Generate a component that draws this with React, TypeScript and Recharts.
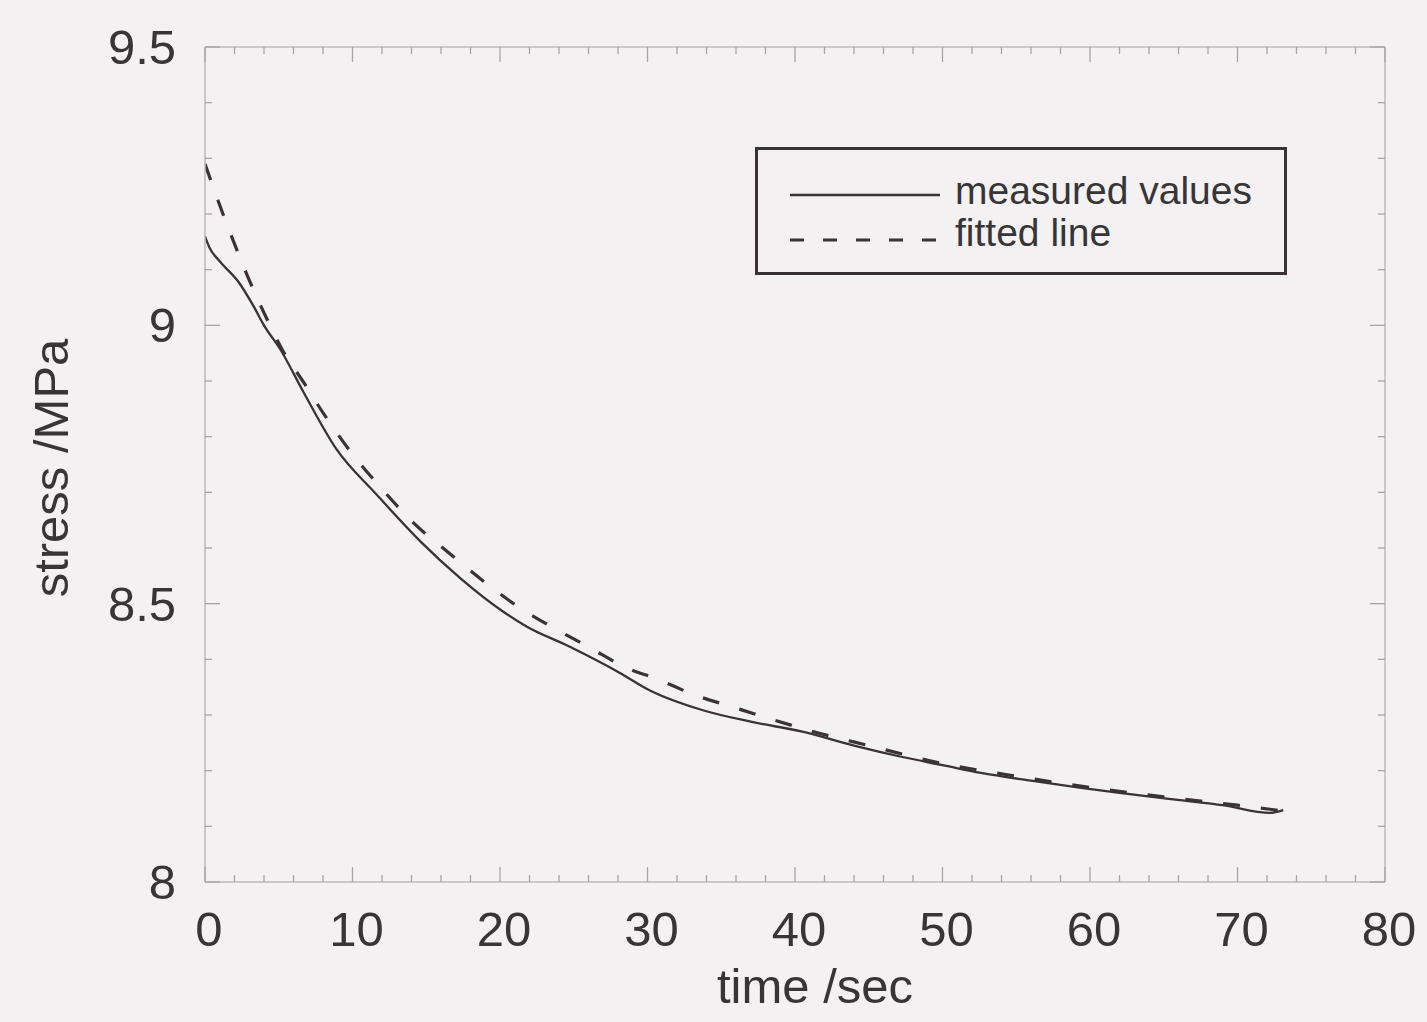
import {
  Legend,
  Line,
  LineChart,
  XAxis,
  YAxis,
} from "recharts";

// measured stress relaxation
const MEASURED_TIME = [
  0, 0.3, 1, 2.3, 3.3, 4, 5.1, 6.7, 8.9, 11.6, 14.6, 17.3, 20.2, 21.8, 24.7,
  28.1, 30.1, 33.7, 37, 40.5, 44, 47.2, 50, 52.6, 56, 59.4, 62, 66.1, 69,
  72.2, 73.1,
];
const MEASURED_STRESS = [
  9.16, 9.14, 9.115, 9.077, 9.034, 9.0, 8.957, 8.879, 8.778, 8.697, 8.612,
  8.546, 8.486, 8.459, 8.423, 8.376, 8.345, 8.309, 8.288, 8.27, 8.245, 8.225,
  8.21, 8.196, 8.182, 8.169, 8.16, 8.147, 8.138, 8.124, 8.129,
];

// fitted curve
const FITTED_TIME = [
  0, 1.15, 1.96, 2.97, 3.99, 5.2, 6.7, 8.2, 9.9, 11.9, 14.1, 16.5, 18.9, 21.2,
  23.6, 26.1, 28.4, 30.8, 33.2, 35.7, 38.1, 41, 45, 50, 55, 60, 65, 70, 73,
];
const FITTED_STRESS = [
  9.29, 9.205, 9.149, 9.083, 9.023, 8.958, 8.897, 8.835, 8.772, 8.709, 8.646,
  8.592, 8.54, 8.495, 8.457, 8.421, 8.387, 8.363, 8.336, 8.315, 8.295, 8.272,
  8.245, 8.213, 8.19, 8.17, 8.153, 8.138, 8.128,
];

// every 2 s a small tick, labelled every 10 s
const X_TICKS = [0, 2, 4, 6, 8, 10, 12, 14, 16, 18, 20, 22, 24, 26, 28, 30, 32, 34, 36, 38, 40, 42, 44, 46, 48, 50, 52, 54, 56, 58, 60, 62, 64, 66, 68, 70, 72, 74, 76, 78, 80];
// every 0.1 MPa a small tick, labelled every 0.5
const Y_TICKS = [8, 8.1, 8.2, 8.3, 8.4, 8.5, 8.6, 8.7, 8.8, 8.9, 9, 9.1, 9.2, 9.3, 9.4, 9.5];

const INK = "#3a3236";
const TEXT = "#383536";
const FRAME = "#bcb9bb";
const TICK = "#a8a5a7";
const BG = "#f3f1f2";
const FONT = "'Liberation Sans', Arial, sans-serif";

// plot frame edges (chart margins below)
const PLOT_TOP = 47;
const PLOT_RIGHT = 1385;

// page background like the scanned paper
document.body.style.margin = "0";
document.body.style.background = BG;

const measured = MEASURED_TIME.map((t, i) => ({ t, v: MEASURED_STRESS[i] }));
const fitted = FITTED_TIME.map((t, i) => ({ t, v: FITTED_STRESS[i] }));

function XTick(props: any) {
  const { x, y, payload } = props;
  const major = payload.value % 10 === 0;
  const len = major ? 15 : 7;
  return (
    <g>
      <line x1={x} x2={x} y1={y} y2={y - len} stroke={TICK} strokeWidth={1.3} />
      <line x1={x} x2={x} y1={PLOT_TOP} y2={PLOT_TOP + len} stroke={TICK} strokeWidth={1.3} />
      {major && (
        <text x={x + 4} y={y} dy={64} textAnchor="middle" fontSize={49} fontFamily={FONT} fill={TEXT}>
          {payload.value}
        </text>
      )}
    </g>
  );
}

function YTick(props: any) {
  const { x, y, payload } = props;
  const v = payload.value;
  const major = Math.abs(v * 2 - Math.round(v * 2)) < 1e-6;
  const len = major ? 15 : 7;
  return (
    <g>
      <line x1={x} x2={x + len} y1={y} y2={y} stroke={TICK} strokeWidth={1.3} />
      <line x1={PLOT_RIGHT} x2={PLOT_RIGHT - len} y1={y} y2={y} stroke={TICK} strokeWidth={1.3} />
      {major && (
        <text x={x - 29} y={y} dy={17} textAnchor="end" fontSize={49} fontFamily={FONT} fill={TEXT}>
          {v}
        </text>
      )}
    </g>
  );
}

function XTitle(props: any) {
  const vb = props?.viewBox ?? { x: 205, y: 882, width: 1180, height: 140 };
  return (
    <text x={vb.x + vb.width / 2 + 20} y={1003} textAnchor="middle" fontSize={49} fontFamily={FONT} fill={TEXT}>
      time /sec
    </text>
  );
}

function YTitle() {
  return (
    <text
      x={68}
      y={468}
      transform="rotate(-90 68 468)"
      textAnchor="middle"
      fontSize={49}
      fontFamily={FONT}
      fill={TEXT}
    >
      stress /MPa
    </text>
  );
}

function LegendBox() {
  return (
    <div
      style={{
        boxSizing: "border-box",
        width: 532,
        height: 128,
        border: `3px solid ${INK}`,
        position: "relative",
        fontFamily: FONT,
        fontSize: 39,
        color: TEXT,
      }}
    >
      <svg width={532} height={128} style={{ position: "absolute", left: -3, top: -3 }}>
        <line x1={35} x2={185} y1={48} y2={48} stroke={INK} strokeWidth={2.5} />
        <line x1={35} x2={190} y1={93} y2={93} stroke={INK} strokeWidth={3} strokeDasharray="14 19" />
      </svg>
      <div style={{ position: "absolute", left: 197, top: 19, lineHeight: "44px" }}>measured values</div>
      <div style={{ position: "absolute", left: 197, top: 61, lineHeight: "44px" }}>fitted line</div>
    </div>
  );
}

export default function App() {
  return (
    <div style={{ width: 1427, height: 1022, background: BG, position: "relative" }}>
      <LineChart
        width={1427}
        height={1022}
        margin={{ top: PLOT_TOP, right: 1427 - PLOT_RIGHT, left: 0, bottom: 0 }}
        style={{ fontFamily: FONT }}
      >
        <XAxis
          dataKey="t"
          type="number"
          domain={[0, 80]}
          ticks={X_TICKS}
          interval={0}
          height={140}
          tickSize={0}
          tickMargin={0}
          tickLine={false}
          axisLine={{ stroke: FRAME, strokeWidth: 1.5 }}
          tick={<XTick />}
          label={<XTitle />}
          allowDataOverflow
        />
        <XAxis
          xAxisId="top"
          orientation="top"
          type="number"
          domain={[0, 80]}
          height={1}
          mirror
          tick={false}
          tickLine={false}
          axisLine={{ stroke: FRAME, strokeWidth: 1.5 }}
          allowDataOverflow
        />
        <YAxis
          type="number"
          domain={[8, 9.5]}
          ticks={Y_TICKS}
          interval={0}
          width={205}
          tickSize={0}
          tickMargin={0}
          tickLine={false}
          axisLine={{ stroke: FRAME, strokeWidth: 1.5 }}
          tick={<YTick />}
          label={<YTitle />}
          allowDataOverflow
        />
        <YAxis
          yAxisId="right"
          orientation="right"
          type="number"
          domain={[8, 9.5]}
          width={1}
          mirror
          tick={false}
          tickLine={false}
          axisLine={{ stroke: FRAME, strokeWidth: 1.5 }}
          allowDataOverflow
        />

        <Line
          data={fitted}
          dataKey="v"
          type="monotone"
          stroke={INK}
          strokeWidth={3.2}
          strokeDasharray="17 21"
          dot={false}
          isAnimationActive={false}
          name="fitted line"
        />
        <Line
          data={measured}
          dataKey="v"
          type="monotone"
          stroke={INK}
          strokeWidth={2.3}
          dot={false}
          isAnimationActive={false}
          name="measured values"
        />

        <Legend
          layout="vertical"
          align="center"
          verticalAlign="middle"
          content={<LegendBox />}
          wrapperStyle={{ left: 755, top: 147, width: 532, height: 128 }}
        />
      </LineChart>
    </div>
  );
}
